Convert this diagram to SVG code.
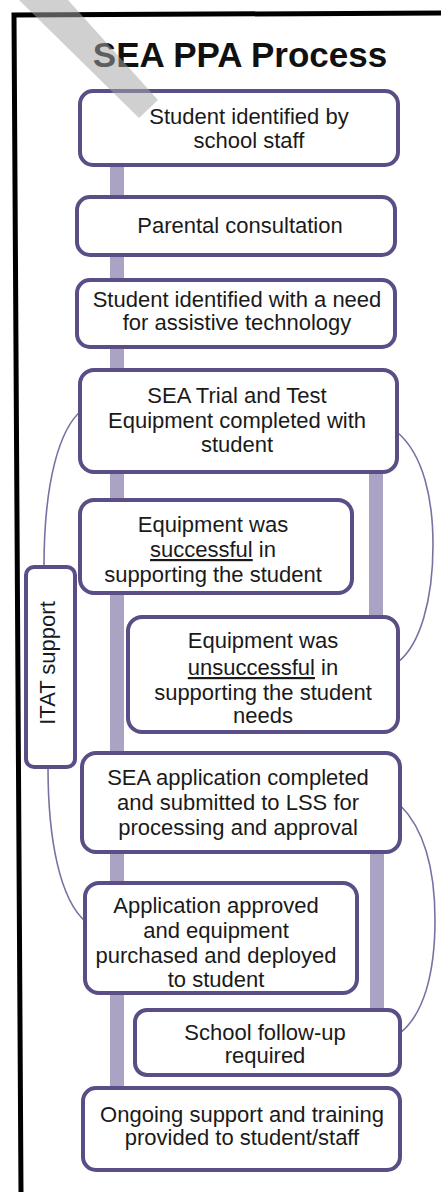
<svg xmlns="http://www.w3.org/2000/svg" width="441" height="1192" viewBox="0 0 441 1192">
<style>
.box{fill:#fff;stroke:#5b4e86;stroke-width:4}
.t{font-family:"Liberation Sans",Arial,sans-serif;font-size:22px;fill:#1a1a1a;text-anchor:middle}
.bar{fill:#aaa3c3}
.curve{fill:none;stroke:#7b70a2;stroke-width:1.6}
</style>
<rect width="441" height="1192" fill="#fff"/>
<path d="M21,1192 L14,15 L441,13" fill="none" stroke="#000" stroke-width="5"/>
<text x="240" y="67" font-family="'Liberation Sans',Arial,sans-serif" font-size="35" font-weight="bold" fill="#111" text-anchor="middle">SEA PPA Process</text>
<g id="connectors">
<rect class="bar" x="110" y="160" width="14" height="932"/>
<rect class="bar" x="369" y="468" width="14" height="152"/>
<rect class="bar" x="370" y="848" width="14" height="165"/>
<path class="curve" d="M82,410 C60,428 44,480 44,567"/>
<path class="curve" d="M48,767 C48,840 60,900 86,922"/>
<path class="curve" d="M397,432 C424,455 433,500 433,545 C433,600 420,645 398,662"/>
<path class="curve" d="M400,805 C425,830 435,870 435,920 C435,975 423,1015 400,1033"/>
</g>
<g id="n1"><rect class="box" x="80" y="91" width="318" height="74" rx="13"/>
<text class="t" x="249" y="124">Student identified by</text><text class="t" x="249" y="148">school staff</text></g>
<g id="n2"><rect class="box" x="77" y="197" width="318" height="58" rx="13"/>
<text class="t" x="240" y="233">Parental consultation</text></g>
<g id="n3"><rect class="box" x="77" y="280" width="318" height="67" rx="13"/>
<text class="t" x="237" y="307">Student identified with a need</text><text class="t" x="237" y="330">for assistive technology</text></g>
<g id="n4"><rect class="box" x="80" y="370" width="317" height="102" rx="14"/>
<text class="t" x="237" y="403">SEA Trial and Test</text><text class="t" x="237" y="428">Equipment completed with</text><text class="t" x="237" y="452">student</text></g>
<g id="n5"><rect class="box" x="80" y="500" width="272" height="93" rx="14"/>
<text class="t" x="213" y="532">Equipment was</text><text class="t" x="213" y="557"><tspan text-decoration="underline">successful</tspan> in</text><text class="t" x="213" y="582">supporting the student</text></g>
<g id="n6"><rect class="box" x="128" y="617" width="270" height="115" rx="14"/>
<text class="t" x="263" y="648">Equipment was</text><text class="t" x="263" y="675"><tspan text-decoration="underline">unsuccessful</tspan> in</text><text class="t" x="263" y="700">supporting the student</text><text class="t" x="263" y="723">needs</text></g>
<g id="itat"><rect class="box" x="26" y="567" width="49" height="200" rx="8"/>
<text class="t" transform="translate(55,663) rotate(-90)" x="0" y="0">ITAT support</text></g>
<g id="n7"><rect class="box" x="82" y="753" width="318" height="99" rx="14"/>
<text class="t" x="238" y="785">SEA application completed</text><text class="t" x="238" y="810">and submitted to LSS for</text><text class="t" x="238" y="835">processing and approval</text></g>
<g id="n8"><rect class="box" x="85" y="883" width="272" height="110" rx="14"/>
<text class="t" x="216" y="913">Application approved</text><text class="t" x="216" y="938">and equipment</text><text class="t" x="216" y="963">purchased and deployed</text><text class="t" x="216" y="987">to student</text></g>
<g id="n9"><rect class="box" x="135" y="1010" width="265" height="65" rx="12"/>
<text class="t" x="265" y="1040">School follow-up</text><text class="t" x="265" y="1063">required</text></g>
<g id="n10"><rect class="box" x="83" y="1088" width="317" height="82" rx="13"/>
<text class="t" x="242" y="1122">Ongoing support and training</text><text class="t" x="242" y="1145">provided to student/staff</text></g>
<polygon points="19,0 68,0 158,100 139,118" fill="#a4a4a4" fill-opacity="0.52"/>
</svg>
